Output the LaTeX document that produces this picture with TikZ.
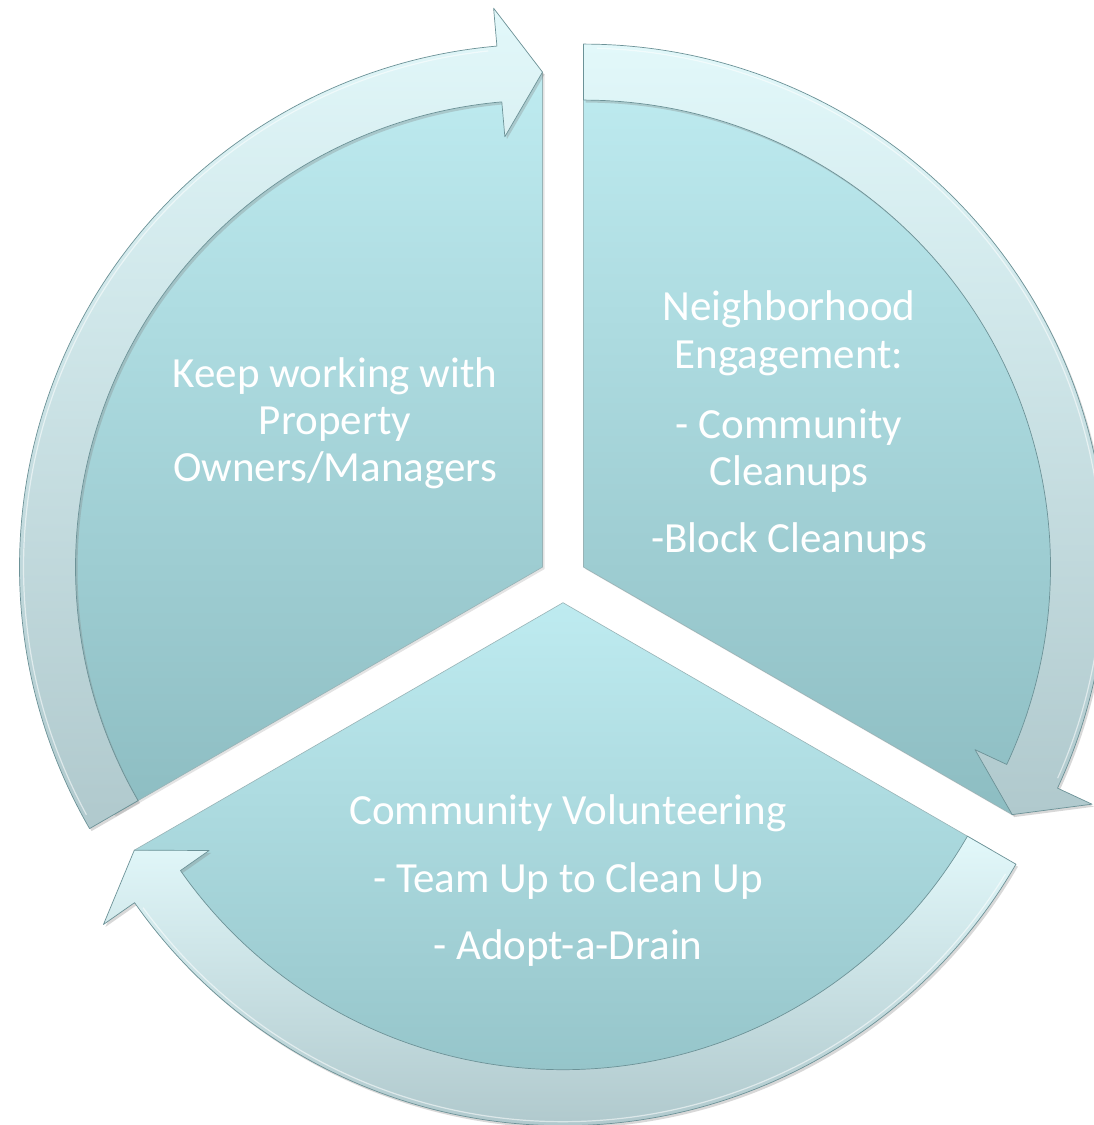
\documentclass[tikz,border=0pt]{standalone}
\usepackage{fontspec}
\newfontfamily\lblfont{Carlito}
\usetikzlibrary{shadows}
\definecolor{pieTop}{RGB}{190,235,240}
\definecolor{pieBot}{RGB}{141,189,194}
\definecolor{bandTop}{RGB}{226,248,250}
\definecolor{bandBot}{RGB}{176,201,205}
\definecolor{edgeCol}{RGB}{108,146,151}
\tikzset{
  piebody/.style={top color=pieTop, bottom color=pieBot, draw=edgeCol!70, line width=0.6pt,
    drop shadow={opacity=0.22, shadow xshift=2pt, shadow yshift=-2pt}},
  arrowband/.style={top color=bandTop, bottom color=bandBot, draw=edgeCol, line width=0.7pt,
    line join=round, drop shadow={opacity=0.3, shadow xshift=2pt, shadow yshift=-2.5pt}},
  bevel/.style={draw=white, opacity=0.55, line width=1.2pt},
  lbl/.style={text=white, font=\lblfont\fontsize{43}{47}\selectfont, inner sep=0pt, anchor=base}
}
\begin{document}
\begin{tikzpicture}[x=1pt,y=1pt]
\useasboundingbox (0,0) rectangle (1094,1125);
\clip (0,0) rectangle (1094,1125);
\fill[white] (0,0) rectangle (1094,1125);

% left sector
\begin{scope}[shift={(542.5,557.9)}]
  \path[piebody] (0,0) -- (210:495) arc[start angle=210, end angle=90, radius=495] -- cycle;
  \path[arrowband] (210:523) arc[start angle=210, end angle=95, radius=523] -- (95:561) -- (90:495)
    -- (95:432) -- (95:467) arc[start angle=95, end angle=210, radius=467] -- cycle;
  \draw[bevel] (208.5:519) arc[start angle=208.5, end angle=96, radius=519];
\end{scope}

% right sector
\begin{scope}[shift={(583.5,557.9)}]
  \path[piebody] (0,0) -- (90:495) arc[start angle=90, end angle=-30, radius=495] -- cycle;
  \path[arrowband] (90:523) arc[start angle=90, end angle=-25, radius=523] -- (-25:561) -- (-30:495)
    -- (-25:432) -- (-25:467) arc[start angle=-25, end angle=90, radius=467] -- cycle;
  \draw[bevel] (88.5:519) arc[start angle=88.5, end angle=-24, radius=519];
\end{scope}

% bottom sector
\begin{scope}[shift={(563,522.3)}]
  \path[piebody] (0,0) -- (-30:495) arc[start angle=-30, end angle=-150, radius=495] -- cycle;
  \path[arrowband] (-30:523) arc[start angle=-30, end angle=-145, radius=523] -- (-145:561) -- (-150:495)
    -- (-145:432) -- (-145:467) arc[start angle=-145, end angle=-30, radius=467] -- cycle;
  \draw[bevel] (-31.5:519) arc[start angle=-31.5, end angle=-144, radius=519];
\end{scope}

% texts
\node[lbl] (l1) at (335,737) {Keep working with};
\node[lbl] (l2) at (335,690) {Property};
\node[lbl] (l3) at (335,643) {Owners/Managers};

\node[lbl] (r1) at (789,804) {Neighborhood};
\node[lbl] (r2) at (789,756) {Engagement:};
\node[lbl] (r3) at (789,686) {- Community};
\node[lbl] (r4) at (789,639) {Cleanups};
\node[lbl] (r5) at (789,572) {-Block Cleanups};

\node[lbl] (b1) at (568,300) {Community Volunteering};
\node[lbl] (b2) at (568,232) {- Team Up to Clean Up};
\node[lbl] (b3) at (568,165) {- Adopt-a-Drain};
\end{tikzpicture}
\end{document}
